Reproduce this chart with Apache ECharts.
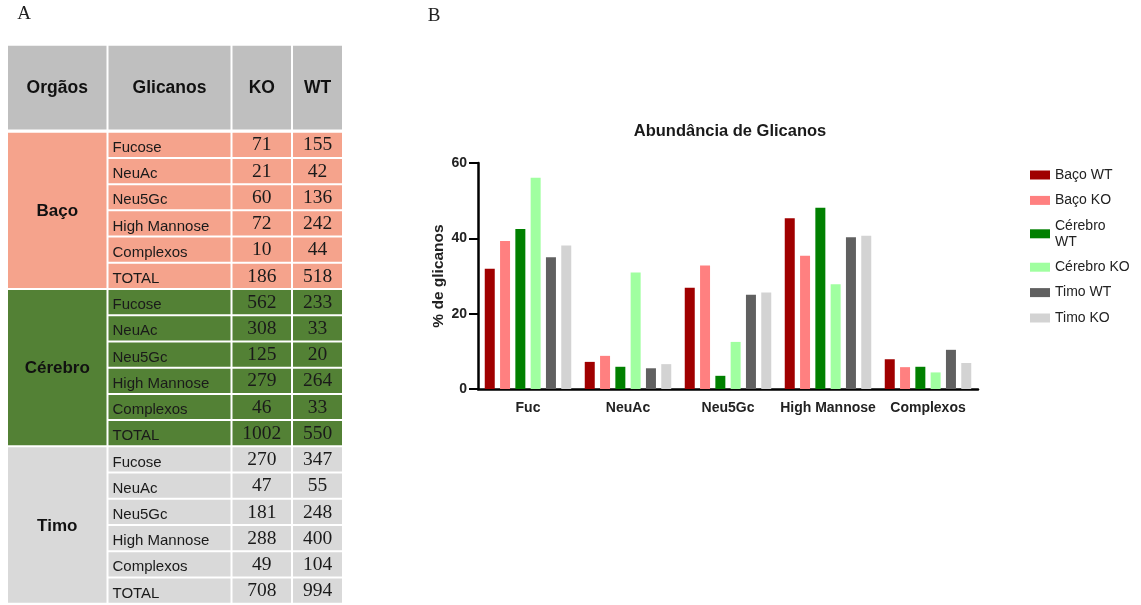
<!DOCTYPE html>
<html>
<head>
<meta charset="utf-8">
<script src="https://cdn.jsdelivr.net/npm/echarts@6/dist/echarts.min.js"></script>
<style>html,body{margin:0;padding:0;background:#fff;}#c{width:1141px;height:605px;}</style>
</head>
<body>
<div id="c"></div>
<script>
// ---------- DATA ----------
// Table (panel A)
const organs = ['Baço', 'Cérebro', 'Timo'];
const glycanRows = ['Fucose', 'NeuAc', 'Neu5Gc', 'High Mannose', 'Complexos', 'TOTAL'];
const tableHeader = ['Orgãos', 'Glicanos', 'KO', 'WT'];
const bacoKO = [71, 21, 60, 72, 10, 186];
const bacoWT = [155, 42, 136, 242, 44, 518];
const cerebroKO = [562, 308, 125, 279, 46, 1002];
const cerebroWT = [233, 33, 20, 264, 33, 550];
const timoKO = [270, 47, 181, 288, 49, 708];
const timoWT = [347, 55, 248, 400, 104, 994];

// Bar chart (panel B)
const categories = ['Fuc', 'NeuAc', 'Neu5Gc', 'High Mannose', 'Complexos'];
const seriesNames = ['Baço WT', 'Baço KO', 'Cérebro WT', 'Cérebro KO', 'Timo WT', 'Timo KO'];
const pctBacoWT = [31.9, 7.2, 26.9, 45.3, 7.9];
const pctBacoKO = [39.3, 8.8, 32.8, 35.4, 5.8];
const pctCerebroWT = [42.5, 5.9, 3.5, 48.1, 5.9];
const pctCerebroKO = [56.1, 30.9, 12.5, 27.8, 4.4];
const pctTimoWT = [35.0, 5.5, 25.0, 40.3, 10.4];
const pctTimoKO = [38.1, 6.6, 25.6, 40.7, 6.9];
const yTicks = [0, 20, 40, 60];

// ---------- STYLE / LAYOUT ----------
const SANS = '"Liberation Sans", Arial, Helvetica, sans-serif';
const SERIF = '"Liberation Serif", "Times New Roman", serif';
const barColors = ['#A00000', '#FF8080', '#008000', '#A0FFA0', '#606060', '#D3D3D3'];
const sectionColors = ['#F5A38C', '#538135', '#D9D9D9'];
const headerColor = '#BFBFBF';
const colX = [7, 107.5, 231.5, 292, 343];
const headerTop = 44.7, headerBottom = 130.5;
const bodyTop = 131.7, rowH = 26.22;

const tableKO = [bacoKO, cerebroKO, timoKO];
const tableWT = [bacoWT, cerebroWT, timoWT];

const graphics = [];
function cell(x0, y0, x1, y1, fill) {
  graphics.push({type: 'rect', silent: true,
    shape: {x: x0 + 1, y: y0 + 1, width: x1 - x0 - 2, height: y1 - y0 - 2},
    style: {fill: fill}});
}
function txt(s, x, y, font, align, fill) {
  graphics.push({type: 'text', silent: true, x: x, y: y,
    style: {text: s, font: font, fill: fill || '#1a1a1a',
      textAlign: align, align: align, textVerticalAlign: 'middle', verticalAlign: 'middle'}});
}
// header
for (let c = 0; c < 4; c++) {
  cell(colX[c], headerTop, colX[c + 1], headerBottom, headerColor);
  txt(tableHeader[c], (colX[c] + colX[c + 1]) / 2, 88.5, 'bold 17.5px ' + SANS, 'center', '#111');
}
// body
const secH = rowH * glycanRows.length;
organs.forEach((org, s) => {
  const top = bodyTop + s * secH;
  cell(colX[0], top, colX[1], top + secH, sectionColors[s]);
  txt(org, (colX[0] + colX[1]) / 2, top + secH / 2 + 1, 'bold 17px ' + SANS, 'center', '#111');
  glycanRows.forEach((g, r) => {
    const y0 = top + r * rowH, y1 = y0 + rowH, yc = (y0 + y1) / 2;
    for (let c = 1; c < 4; c++) cell(colX[c], y0, colX[c + 1], y1, sectionColors[s]);
    txt(g, colX[1] + 5, yc + 3, '15px ' + SANS, 'left', '#1a1a1a');
    txt(String(tableKO[s][r]), (colX[2] + colX[3]) / 2, yc + 0.5, '19.5px ' + SERIF, 'center', '#1a1a1a');
    txt(String(tableWT[s][r]), (colX[3] + colX[4]) / 2, yc + 0.5, '19.5px ' + SERIF, 'center', '#1a1a1a');
  });
});
// panel letters
txt('A', 24, 14, '19px ' + SERIF, 'center', '#222');
txt('B', 434, 16, '19px ' + SERIF, 'center', '#222');

const seriesData = [pctBacoWT, pctBacoKO, pctCerebroWT, pctCerebroKO, pctTimoWT, pctTimoKO];

const chart = echarts.init(document.getElementById('c'), null, {renderer: 'canvas'});
chart.setOption({
  animation: false,
  backgroundColor: '#fff',
  title: {
    text: 'Abundância de Glicanos',
    left: 730, top: 123, textAlign: 'center', padding: 0,
    textStyle: {fontFamily: SANS, fontWeight: 'bold', fontSize: 16.5, color: '#1a1a1a'}
  },
  legend: {
    orient: 'vertical', left: 1025, top: 162,
    itemWidth: 20, itemHeight: 9, itemGap: 9.4,
    icon: 'rect',
    data: seriesNames,
    formatter: n => n === 'Cérebro WT' ? 'Cérebro\nWT' : n,
    textStyle: {fontFamily: SANS, fontSize: 14, lineHeight: 16, color: '#222'}
  },
  grid: {left: 478, top: 163, width: 500, height: 226, containLabel: false},
  xAxis: {
    type: 'category', data: categories,
    axisLine: {lineStyle: {color: '#000', width: 2.5}},
    axisTick: {alignWithLabel: true, length: 7, lineStyle: {color: '#000', width: 2}},
    axisLabel: {interval: 0, fontFamily: SANS, fontWeight: 'bold', fontSize: 14, color: '#222', margin: 12},
    splitLine: {show: false}
  },
  yAxis: {
    type: 'value', min: yTicks[0], max: yTicks[yTicks.length - 1], interval: yTicks[1] - yTicks[0],
    name: '% de glicanos', nameLocation: 'middle', nameGap: 31,
    nameTextStyle: {fontFamily: SANS, fontWeight: 'bold', fontSize: 15.5, color: '#222'},
    axisLine: {show: true, lineStyle: {color: '#000', width: 2.5}},
    axisTick: {show: true, length: 9, lineStyle: {color: '#000', width: 2}},
    axisLabel: {fontFamily: SANS, fontWeight: 'bold', fontSize: 14, color: '#222', margin: 11},
    splitLine: {show: false}
  },
  series: seriesNames.map((n, i) => ({
    name: n, type: 'bar', data: seriesData[i],
    barWidth: 10, barGap: '53%',
    itemStyle: {color: barColors[i]}
  })),
  graphic: graphics
});
</script>
</body>
</html>
